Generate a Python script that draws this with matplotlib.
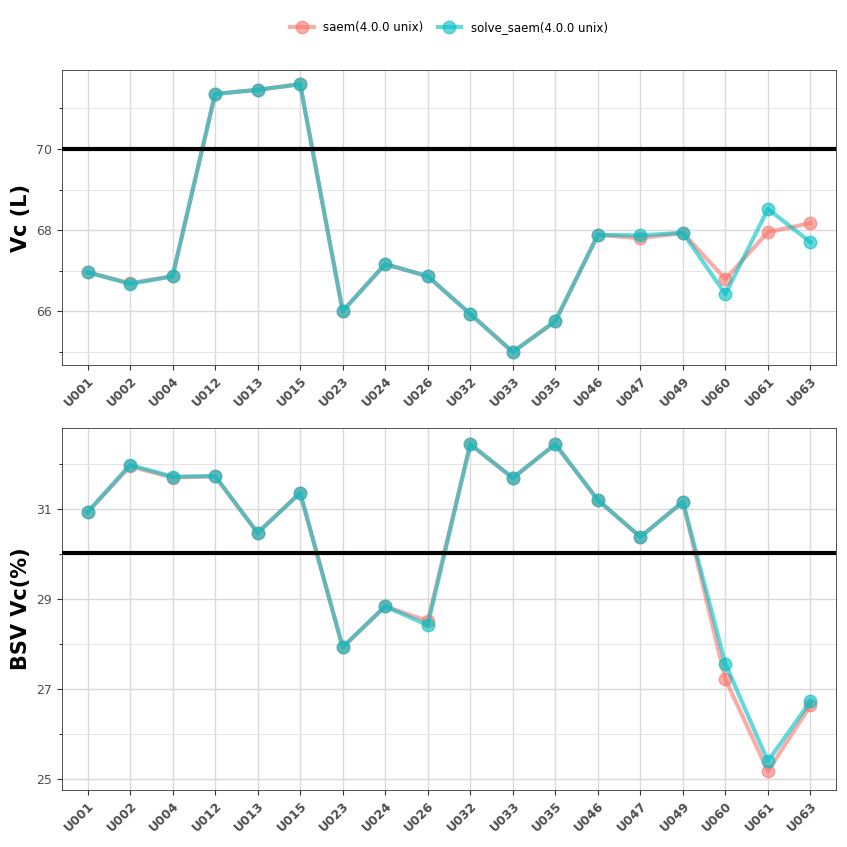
import numpy as np
import matplotlib.pyplot as plt
from matplotlib.ticker import FixedLocator

ids = ["U001", "U002", "U004", "U012", "U013", "U015", "U023", "U024", "U026",
       "U032", "U033", "U035", "U046", "U047", "U049", "U060", "U061", "U063"]

vc_saem = [66.96, 66.69, 66.86, 71.36, 71.46, 71.60, 66.00, 67.16, 66.86,
           65.93, 64.99, 65.75, 67.88, 67.80, 67.93, 66.79, 67.95, 68.17]
vc_solve = [66.96, 66.67, 66.86, 71.36, 71.46, 71.60, 66.00, 67.16, 66.86,
            65.93, 64.99, 65.75, 67.88, 67.87, 67.93, 66.42, 68.52, 67.70]
bsv_saem = [30.93, 31.95, 31.70, 31.73, 30.47, 31.36, 27.93, 28.84, 28.51,
            32.44, 31.69, 32.44, 31.20, 30.38, 31.16, 27.22, 25.18, 26.64]
bsv_solve = [30.93, 31.98, 31.72, 31.73, 30.47, 31.36, 27.93, 28.84, 28.42,
             32.44, 31.69, 32.44, 31.20, 30.38, 31.16, 27.56, 25.40, 26.73]
vc_ref = 70
bsv_ref = 30.02
vc_ticks = [66, 68, 70]
bsv_ticks = [25, 27, 29, 31]

red = "#F8766D"
cyan = "#00BFC4"

fig = plt.figure(figsize=(8.47, 8.47), dpi=100)
ax1 = fig.add_axes([62/847, 1-365/847, 774/847, 295/847])
ax2 = fig.add_axes([62/847, 1-790/847, 774/847, 362/847])

x = np.arange(len(ids))
panels = [(ax1, vc_saem, vc_solve, vc_ref, "Vc (L)", (64.67, 71.95), vc_ticks),
          (ax2, bsv_saem, bsv_solve, bsv_ref, "BSV Vc(%)", (24.76, 32.8), bsv_ticks)]
for ax, s, v, ref, lab, ylim, ticks in panels:
    ax.plot(x, s, color=red, lw=3, alpha=0.6, marker="o", ms=9,
            label="saem(4.0.0 unix)", zorder=3)
    ax.plot(x, v, color=cyan, lw=3, alpha=0.6, marker="o", ms=9,
            label="solve_saem(4.0.0 unix)", zorder=3)
    ax.axhline(ref, color="black", lw=3, zorder=4)
    ax.set_xlim(-0.6, len(ids) - 0.4)
    ax.set_ylim(*ylim)
    ax.yaxis.set_major_locator(FixedLocator(ticks))
    minor = [t + 1 for t in ticks] + [ticks[0] - 1]
    ax.yaxis.set_minor_locator(FixedLocator(minor))
    ax.set_xticks(x)
    ax.set_xticklabels(ids, rotation=45, ha="right", rotation_mode="anchor",
                       fontsize=9, color="#4D4D4D", fontweight="bold")
    ax.tick_params(axis="y", labelsize=9, labelcolor="#4D4D4D")
    ax.tick_params(color="#333333")
    ax.grid(True, which="major", color="#D9D9D9", lw=1)
    ax.grid(True, which="minor", axis="y", color="#E5E5E5", lw=0.7)
    ax.set_axisbelow(True)
    for sp in ax.spines.values():
        sp.set_color("#333333")
        sp.set_linewidth(0.6)
    ax.set_ylabel(lab, fontsize=15, fontweight="bold")

h, l = ax1.get_legend_handles_labels()
fig.legend(h, l, loc="center", bbox_to_anchor=(0.53, 1-28/847), ncol=2,
           frameon=False, fontsize=8.5, handlelength=2, columnspacing=1.2)

fig.savefig("out.png", dpi=100)
